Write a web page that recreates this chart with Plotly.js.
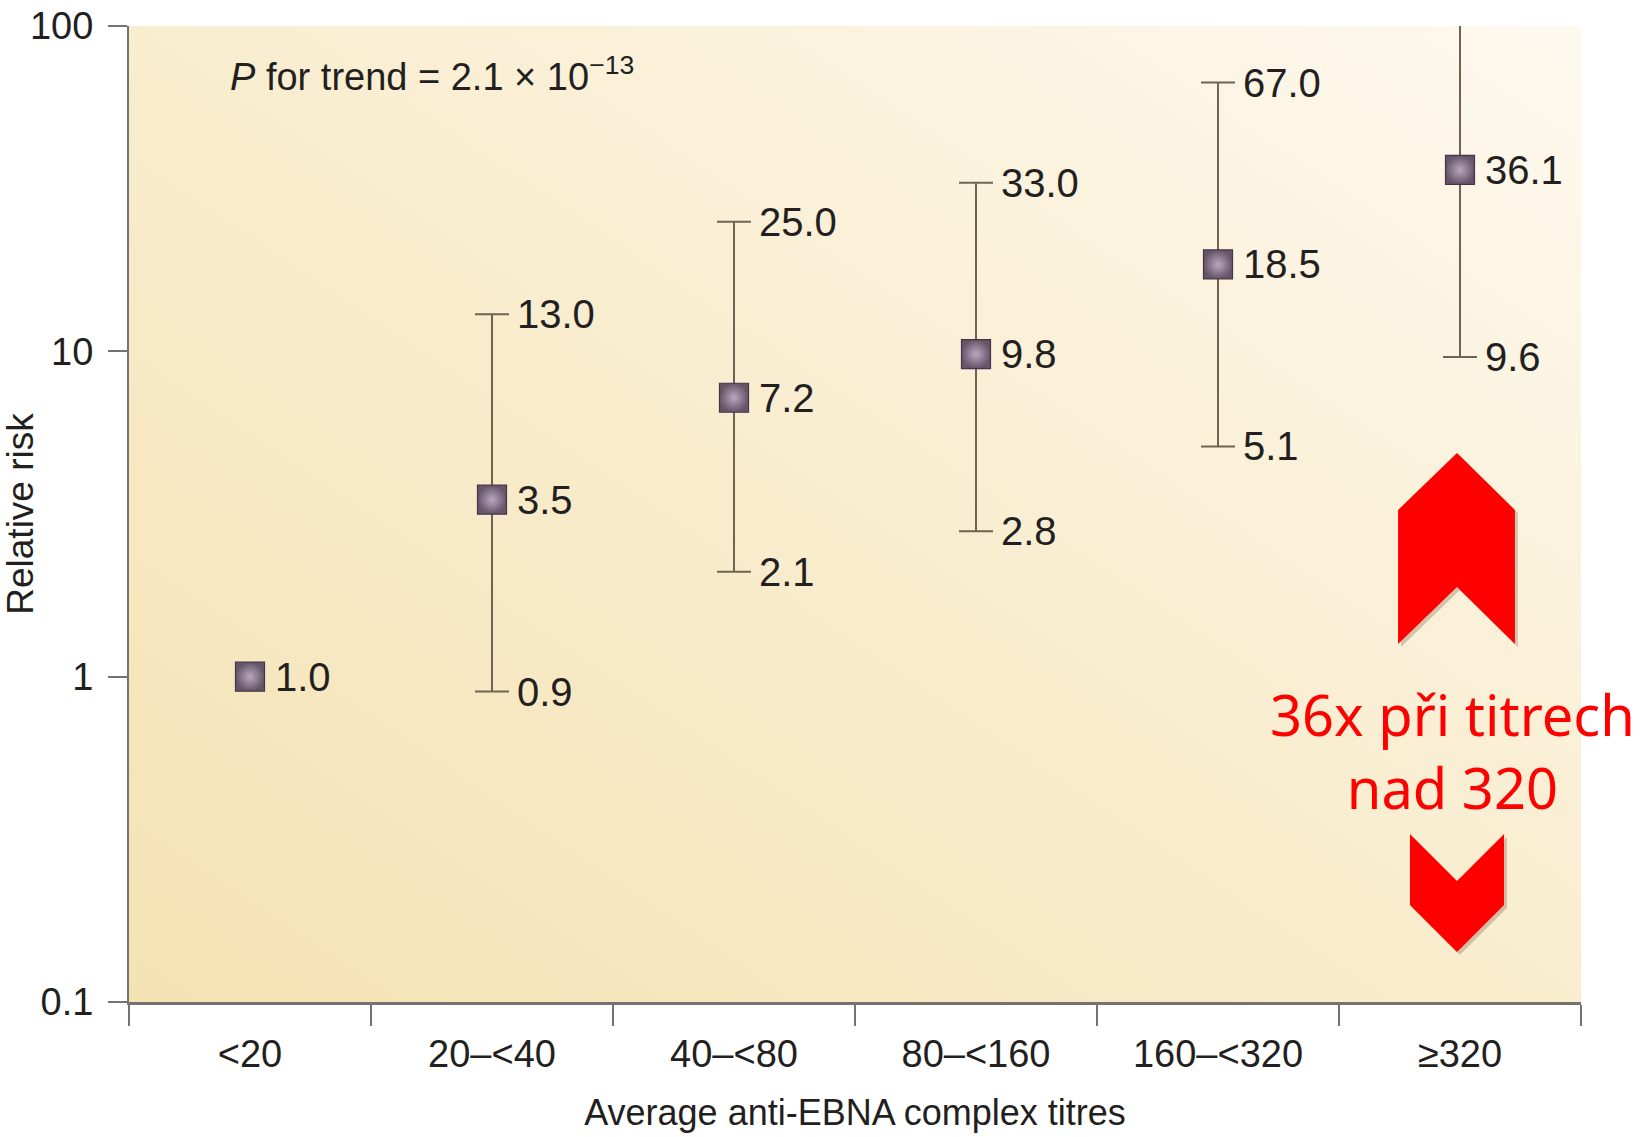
<!DOCTYPE html>
<html>
<head>
<meta charset="utf-8">
<script src="https://cdn.plot.ly/plotly-3.0.1.min.js"></script>
<style>
  html, body { margin: 0; padding: 0; background: #ffffff; }
  #chart { width: 1645px; height: 1137px; }
</style>
</head>
<body>
<div id="chart"></div>
<script>
// ---- data ----
const categories   = ['<20', '20–<40', '40–<80', '80–<160', '160–<320', '≥320'];
const relativeRisk = [1.0, 3.5, 7.2, 9.8, 18.5, 36.1];
const ciLower      = [null, 0.9, 2.1, 2.8, 5.1, 9.6];
const ciUpper      = [null, 13.0, 25.0, 33.0, 67.0, 136.0];
const yTickVals    = [0.1, 1, 10, 100];
const yTickText    = ['0.1', '1', '10', '100'];
const xTitle       = 'Average anti-EBNA complex titres';
const yTitle       = 'Relative risk';
const trendText    = '<i>P</i> for trend = 2.1 × 10<sup>−13</sup>';
const noteLines    = ['36x při titrech', 'nad 320'];

// ---- build traces ----
const yMax = 100;
const ciIdx = categories.map((c, i) => i).filter(i => ciLower[i] !== null);

const errTrace = {
  type: 'scatter',
  mode: 'markers',
  x: ciIdx.map(i => categories[i]),
  y: ciIdx.map(i => relativeRisk[i]),
  marker: { size: 1, opacity: 0 },
  error_y: {
    type: 'data',
    symmetric: false,
    array: ciIdx.map(i => ciUpper[i] - relativeRisk[i]),
    arrayminus: ciIdx.map(i => relativeRisk[i] - ciLower[i]),
    color: '#6f6453',
    thickness: 2,
    width: 17
  },
  cliponaxis: true,
  hoverinfo: 'skip',
  showlegend: false
};

const pointTrace = {
  type: 'scatter',
  mode: 'markers',
  x: categories,
  y: relativeRisk,
  marker: {
    symbol: 'square',
    size: 29,
    color: '#665568',
    gradient: { type: 'radial', color: '#b8a7c0' },
    line: { color: '#44364a', width: 1.2 }
  },
  cliponaxis: false,
  showlegend: false
};

// ---- labels ----
const labelFont = { family: 'Liberation Sans, Arial, sans-serif', size: 40, color: '#231f20' };
const annotations = [];
categories.forEach((c, i) => {
  annotations.push({
    x: i, y: Math.log10(relativeRisk[i]), xref: 'x', yref: 'y',
    text: relativeRisk[i].toFixed(1), showarrow: false,
    xanchor: 'left', yanchor: 'middle', xshift: 23, font: labelFont
  });
  if (ciLower[i] !== null) {
    [ciLower[i], ciUpper[i]].forEach(v => {
      if (v <= yMax) {
        annotations.push({
          x: i, y: Math.log10(v), xref: 'x', yref: 'y',
          text: v.toFixed(1), showarrow: false,
          xanchor: 'left', yanchor: 'middle', xshift: 23, font: labelFont
        });
      }
    });
  }
});
annotations.push({
  x: 0.068, y: 0.951, xref: 'paper', yref: 'paper',
  text: trendText, showarrow: false, xanchor: 'left', yanchor: 'middle',
  font: { family: 'Liberation Sans, Arial, sans-serif', size: 38, color: '#231f20' }
});
annotations.push({
  x: 0.9118, y: 0.2572, xref: 'paper', yref: 'paper',
  text: noteLines.join('<br>'), showarrow: false, xanchor: 'center', yanchor: 'middle',
  font: { family: 'Noto Sans, sans-serif', size: 56, color: '#ff0000' }
});

// ---- background gradient + chevrons ----
const bgSvg = "<svg xmlns='http://www.w3.org/2000/svg' width='200' height='200' preserveAspectRatio='none'>" +
  "<defs><linearGradient id='g' x1='0' y1='1' x2='1' y2='0'>" +
  "<stop offset='0' stop-color='#f5e2b3'/>" +
  "<stop offset='0.5' stop-color='#f9edcf'/>" +
  "<stop offset='1' stop-color='#fef9ef'/>" +
  "</linearGradient></defs><rect width='200' height='200' fill='url(#g)'/></svg>";
const bgUri = 'data:image/svg+xml;charset=utf-8,' + encodeURIComponent(bgSvg);

const upPath = 'M 0.9146 0.5625 L 0.9545 0.5041 L 0.9545 0.3668 L 0.9146 0.4252 L 0.8740 0.3668 L 0.8740 0.5041 Z';
const downPath = 'M 0.8822 0.1721 L 0.9146 0.1240 L 0.9470 0.1721 L 0.9470 0.0994 L 0.9146 0.0512 L 0.8822 0.0994 Z';
function shift(path, dx, dy) {
  let k = 0;
  return path.replace(/(\d\.\d+)/g, m => { const v = parseFloat(m) + (k++ % 2 === 0 ? dx : dy); return v.toFixed(4); });
}
const shapes = [
  { type: 'path', xref: 'paper', yref: 'paper', path: shift(upPath, 0.002, -0.003), fillcolor: 'rgba(90,60,40,0.25)', line: { width: 0 }, layer: 'above' },
  { type: 'path', xref: 'paper', yref: 'paper', path: shift(downPath, 0.002, -0.003), fillcolor: 'rgba(90,60,40,0.25)', line: { width: 0 }, layer: 'above' },
  { type: 'path', xref: 'paper', yref: 'paper', path: upPath, fillcolor: '#ff0000', line: { width: 0 }, layer: 'above' },
  { type: 'path', xref: 'paper', yref: 'paper', path: downPath, fillcolor: '#ff0000', line: { width: 0 }, layer: 'above' }
];

const axisColor = '#767270';
const layout = {
  width: 1645, height: 1137,
  margin: { l: 129, r: 64, t: 26, b: 135, pad: 0 },
  paper_bgcolor: '#ffffff',
  plot_bgcolor: '#f8eac6',
  font: { family: 'Liberation Sans, Arial, sans-serif', color: '#231f20' },
  showlegend: false,
  xaxis: {
    type: 'category',
    categoryorder: 'array',
    categoryarray: categories,
    range: [-0.5, 5.5],
    tickson: 'boundaries',
    ticks: 'outside', ticklen: 21, tickwidth: 2, tickcolor: axisColor,
    showline: true, linecolor: axisColor, linewidth: 2.5,
    showgrid: false, zeroline: false,
    tickfont: { size: 38, color: '#231f20' },
    ticklabelstandoff: 17,
    title: { text: xTitle, font: { size: 36, color: '#231f20' }, standoff: 26 }
  },
  yaxis: {
    type: 'log',
    range: [-1, 2],
    tickvals: yTickVals, ticktext: yTickText,
    ticks: 'outside', ticklen: 19, tickwidth: 2, tickcolor: axisColor,
    showline: true, linecolor: axisColor, linewidth: 2,
    showgrid: false, zeroline: false,
    tickfont: { size: 38, color: '#231f20' },
    ticklabelstandoff: 7,
    title: { text: yTitle, font: { size: 37, color: '#231f20' }, standoff: 4 }
  },
  images: [{
    source: bgUri, xref: 'paper', yref: 'paper',
    x: 0, y: 1, sizex: 1, sizey: 1, sizing: 'stretch',
    xanchor: 'left', yanchor: 'top', layer: 'below'
  }],
  shapes: shapes,
  annotations: annotations
};

Plotly.newPlot('chart', [errTrace, pointTrace], layout, { staticPlot: true, displayModeBar: false });
</script>
</body>
</html>
